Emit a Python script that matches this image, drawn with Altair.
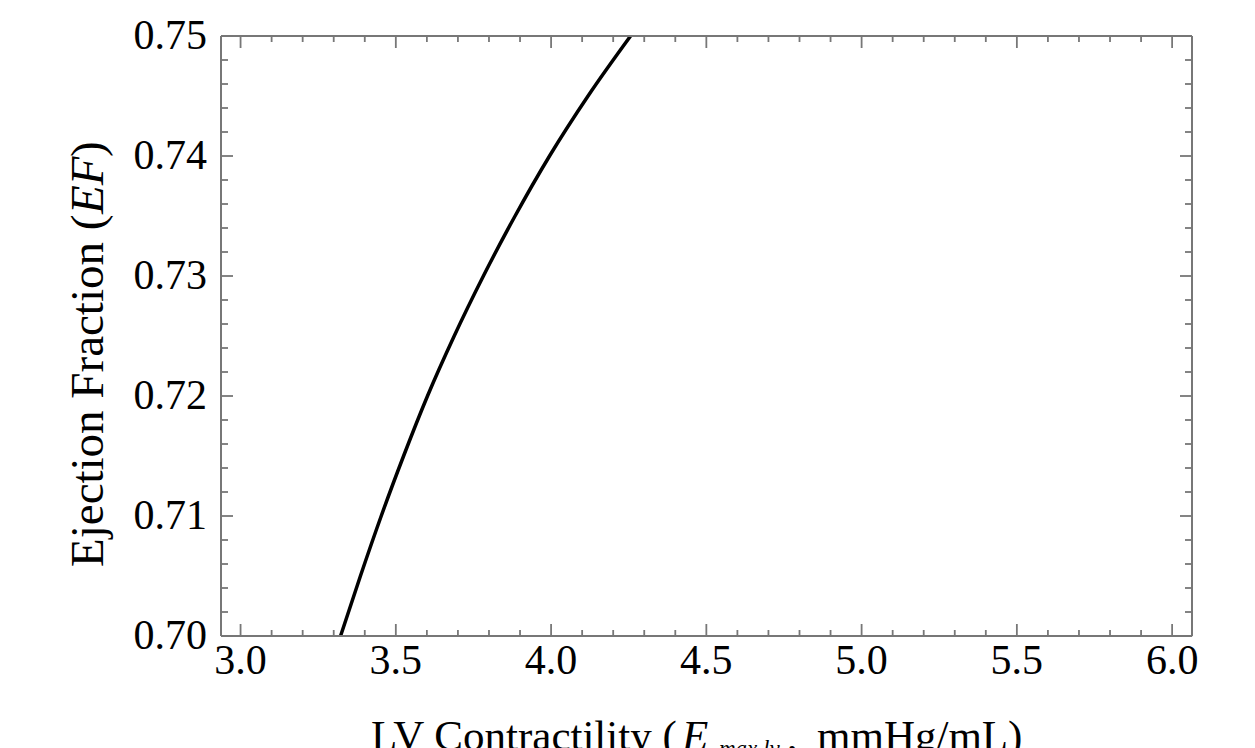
import altair as alt
import pandas as pd

# ---- data ----
ef_values = [0.700, 0.705, 0.710, 0.715, 0.720, 0.725, 0.730, 0.735, 0.740, 0.745, 0.750]
emax_values = [3.322, 3.386, 3.453, 3.525, 3.602, 3.688, 3.782, 3.884, 3.995, 4.119, 4.256]

x_major = [3.0, 3.5, 4.0, 4.5, 5.0, 5.5, 6.0]
x_labels = ["3.0", "3.5", "4.0", "4.5", "5.0", "5.5", "6.0"]
x_minor = [round(3.0 + 0.1 * i, 2) for i in range(31) if i % 5 != 0]
y_major = [0.70, 0.71, 0.72, 0.73, 0.74, 0.75]
y_labels = ["0.70", "0.71", "0.72", "0.73", "0.74", "0.75"]
y_minor = [round(0.70 + 0.002 * i, 3) for i in range(26) if i % 5 != 0]

W, H = 971, 600
FONT = "Liberation Serif"
GREY = "#777777"

xscale = alt.Scale(domain=[2.937, 6.064], nice=False, zero=False)
yscale = alt.Scale(domain=[0.70, 0.75], nice=False, zero=False)

curve = pd.DataFrame({"x": emax_values, "y": ef_values})

line = alt.Chart(curve).mark_line(color="black", strokeWidth=3.5, interpolate="monotone", clip=True).encode(
    x=alt.X("x:Q", scale=xscale, axis=None),
    y=alt.Y("y:Q", scale=yscale, axis=None),
)

xlab = alt.Chart(pd.DataFrame({"x": x_major, "t": x_labels})).mark_text(
    font=FONT, fontSize=42, color="black", align="center", baseline="alphabetic"
).encode(x=alt.X("x:Q", scale=xscale, axis=None), y=alt.value(H + 38), text="t:N")

ylab = alt.Chart(pd.DataFrame({"y": y_major, "t": y_labels})).mark_text(
    font=FONT, fontSize=42, color="black", align="right", baseline="middle"
).encode(y=alt.Y("y:Q", scale=yscale, axis=None), x=alt.value(-14), text="t:N")


def xticks(vals, length):
    d = pd.DataFrame({"x": vals})
    base = alt.Chart(d).mark_rule(color=GREY, strokeWidth=1.8)
    bottom = base.encode(x=alt.X("x:Q", scale=xscale, axis=None), y=alt.value(H), y2=alt.value(H - length))
    top = base.encode(x=alt.X("x:Q", scale=xscale, axis=None), y=alt.value(0), y2=alt.value(length))
    return [bottom, top]


def yticks(vals, length):
    d = pd.DataFrame({"y": vals})
    base = alt.Chart(d).mark_rule(color=GREY, strokeWidth=1.8)
    left = base.encode(y=alt.Y("y:Q", scale=yscale, axis=None), x=alt.value(0), x2=alt.value(length))
    right = base.encode(y=alt.Y("y:Q", scale=yscale, axis=None), x=alt.value(W), x2=alt.value(W - length))
    return [left, right]


one = pd.DataFrame({"a": [0]})

frame_base = alt.Chart(one).mark_rule(color=GREY, strokeWidth=2)
frame = [
    frame_base.encode(x=alt.value(0), x2=alt.value(W), y=alt.value(0)),
    frame_base.encode(x=alt.value(0), x2=alt.value(W), y=alt.value(H)),
    frame_base.encode(x=alt.value(0), y=alt.value(0), y2=alt.value(H)),
    frame_base.encode(x=alt.value(W), y=alt.value(0), y2=alt.value(H)),
]


def label(text, x, y, size=43, style="normal", angle=0):
    return alt.Chart(one).mark_text(text=text, align="left", baseline="alphabetic", font=FONT,
                                    fontSize=size, fontStyle=style, color="black", angle=angle).encode(
        x=alt.value(x), y=alt.value(y))


# x-axis title pieces (plot coordinates; plot origin at 221,36)
xt = [
    label("LV Contractility (", 150, 714),
    label("E", 461, 714, style="italic"),
    label("max,lv", 498, 720, size=23, style="italic"),
    label(",", 566, 714),
    label("mmHg/mL)", 596, 714),
]
# y-axis title pieces (rotated)
yt = [
    label("Ejection Fraction (", -118, 531, size=47, angle=270),
    label("EF", -118, 178, size=47, style="italic", angle=270),
    label(")", -118, 121, size=47, angle=270),
]

layers = ([line] + frame + xticks(x_major, 12) + xticks(x_minor, 6) + yticks(y_major, 12)
          + yticks(y_minor, 7) + [xlab, ylab] + xt + yt)

chart = alt.layer(*layers).properties(
    width=W, height=H,
    autosize=alt.AutoSizeParams(type="none"),
    padding={"left": 221, "top": 36, "right": 63, "bottom": 112},
).configure_view(strokeWidth=0).configure(background="white")

chart.save("out.html", embed_options={"renderer": "svg", "actions": False})
